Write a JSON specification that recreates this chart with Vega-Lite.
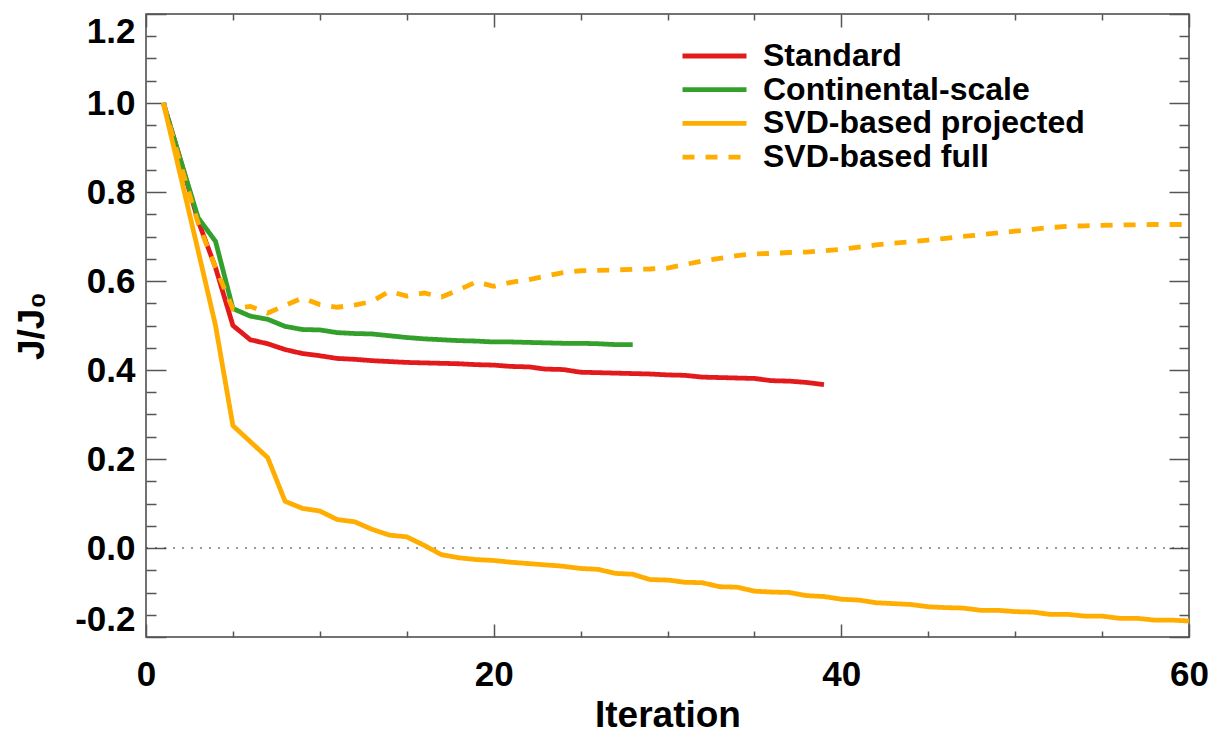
{
  "$schema": "https://vega.github.io/schema/vega-lite/v6.json",
  "width": 1043,
  "height": 623,
  "autosize": {"type": "none"},
  "padding": {"left": 146, "top": 14, "right": 34, "bottom": 99},
  "background": "white",
  "config": {
    "font": "Liberation Sans",
    "view": {"stroke": "#444444", "strokeWidth": 1.5},
    "axis": {"grid": false, "domain": false, "tickColor": "#555555", "tickWidth": 1.5, "labelOverlap": false, "labelColor": "black", "titleColor": "black"}
  },
  "datasets": {
    "zero": [{"i": 0, "v": 0}, {"i": 60, "v": 0}],
    "runs": [
      {"s": "Standard", "i": 1, "v": 1.0}, {"s": "Standard", "i": 2, "v": 0.87}, {"s": "Standard", "i": 3, "v": 0.735}, {"s": "Standard", "i": 4, "v": 0.63}, {"s": "Standard", "i": 5, "v": 0.5}, {"s": "Standard", "i": 6, "v": 0.468}, {"s": "Standard", "i": 7, "v": 0.459}, {"s": "Standard", "i": 8, "v": 0.446}, {"s": "Standard", "i": 9, "v": 0.437}, {"s": "Standard", "i": 10, "v": 0.432}, {"s": "Standard", "i": 11, "v": 0.426}, {"s": "Standard", "i": 12, "v": 0.424}, {"s": "Standard", "i": 13, "v": 0.421}, {"s": "Standard", "i": 14, "v": 0.419}, {"s": "Standard", "i": 15, "v": 0.417}, {"s": "Standard", "i": 16, "v": 0.416}, {"s": "Standard", "i": 17, "v": 0.415}, {"s": "Standard", "i": 18, "v": 0.414}, {"s": "Standard", "i": 19, "v": 0.412}, {"s": "Standard", "i": 20, "v": 0.411}, {"s": "Standard", "i": 21, "v": 0.408}, {"s": "Standard", "i": 22, "v": 0.407}, {"s": "Standard", "i": 23, "v": 0.402}, {"s": "Standard", "i": 24, "v": 0.401}, {"s": "Standard", "i": 25, "v": 0.395}, {"s": "Standard", "i": 26, "v": 0.394}, {"s": "Standard", "i": 27, "v": 0.393}, {"s": "Standard", "i": 28, "v": 0.392}, {"s": "Standard", "i": 29, "v": 0.391}, {"s": "Standard", "i": 30, "v": 0.389}, {"s": "Standard", "i": 31, "v": 0.388}, {"s": "Standard", "i": 32, "v": 0.384}, {"s": "Standard", "i": 33, "v": 0.383}, {"s": "Standard", "i": 34, "v": 0.382}, {"s": "Standard", "i": 35, "v": 0.381}, {"s": "Standard", "i": 36, "v": 0.376}, {"s": "Standard", "i": 37, "v": 0.375}, {"s": "Standard", "i": 38, "v": 0.372}, {"s": "Standard", "i": 39, "v": 0.367},
      {"s": "Continental-scale", "i": 1, "v": 1.0}, {"s": "Continental-scale", "i": 2, "v": 0.87}, {"s": "Continental-scale", "i": 3, "v": 0.742}, {"s": "Continental-scale", "i": 4, "v": 0.689}, {"s": "Continental-scale", "i": 5, "v": 0.538}, {"s": "Continental-scale", "i": 6, "v": 0.521}, {"s": "Continental-scale", "i": 7, "v": 0.514}, {"s": "Continental-scale", "i": 8, "v": 0.498}, {"s": "Continental-scale", "i": 9, "v": 0.491}, {"s": "Continental-scale", "i": 10, "v": 0.49}, {"s": "Continental-scale", "i": 11, "v": 0.484}, {"s": "Continental-scale", "i": 12, "v": 0.482}, {"s": "Continental-scale", "i": 13, "v": 0.481}, {"s": "Continental-scale", "i": 14, "v": 0.477}, {"s": "Continental-scale", "i": 15, "v": 0.473}, {"s": "Continental-scale", "i": 16, "v": 0.47}, {"s": "Continental-scale", "i": 17, "v": 0.468}, {"s": "Continental-scale", "i": 18, "v": 0.466}, {"s": "Continental-scale", "i": 19, "v": 0.465}, {"s": "Continental-scale", "i": 20, "v": 0.463}, {"s": "Continental-scale", "i": 21, "v": 0.463}, {"s": "Continental-scale", "i": 22, "v": 0.462}, {"s": "Continental-scale", "i": 23, "v": 0.461}, {"s": "Continental-scale", "i": 24, "v": 0.46}, {"s": "Continental-scale", "i": 25, "v": 0.46}, {"s": "Continental-scale", "i": 26, "v": 0.459}, {"s": "Continental-scale", "i": 27, "v": 0.457}, {"s": "Continental-scale", "i": 28, "v": 0.457},
      {"s": "SVD-based projected", "i": 1, "v": 1.0}, {"s": "SVD-based projected", "i": 2, "v": 0.834}, {"s": "SVD-based projected", "i": 3, "v": 0.668}, {"s": "SVD-based projected", "i": 4, "v": 0.5}, {"s": "SVD-based projected", "i": 5, "v": 0.275}, {"s": "SVD-based projected", "i": 6, "v": 0.239}, {"s": "SVD-based projected", "i": 7, "v": 0.203}, {"s": "SVD-based projected", "i": 8, "v": 0.105}, {"s": "SVD-based projected", "i": 9, "v": 0.089}, {"s": "SVD-based projected", "i": 10, "v": 0.083}, {"s": "SVD-based projected", "i": 11, "v": 0.064}, {"s": "SVD-based projected", "i": 12, "v": 0.059}, {"s": "SVD-based projected", "i": 13, "v": 0.042}, {"s": "SVD-based projected", "i": 14, "v": 0.029}, {"s": "SVD-based projected", "i": 15, "v": 0.025}, {"s": "SVD-based projected", "i": 16, "v": 0.006}, {"s": "SVD-based projected", "i": 17, "v": -0.015}, {"s": "SVD-based projected", "i": 18, "v": -0.022}, {"s": "SVD-based projected", "i": 19, "v": -0.026}, {"s": "SVD-based projected", "i": 20, "v": -0.028}, {"s": "SVD-based projected", "i": 21, "v": -0.032}, {"s": "SVD-based projected", "i": 22, "v": -0.035}, {"s": "SVD-based projected", "i": 23, "v": -0.038}, {"s": "SVD-based projected", "i": 24, "v": -0.041}, {"s": "SVD-based projected", "i": 25, "v": -0.046}, {"s": "SVD-based projected", "i": 26, "v": -0.048}, {"s": "SVD-based projected", "i": 27, "v": -0.057}, {"s": "SVD-based projected", "i": 28, "v": -0.059}, {"s": "SVD-based projected", "i": 29, "v": -0.071}, {"s": "SVD-based projected", "i": 30, "v": -0.072}, {"s": "SVD-based projected", "i": 31, "v": -0.077}, {"s": "SVD-based projected", "i": 32, "v": -0.078}, {"s": "SVD-based projected", "i": 33, "v": -0.087}, {"s": "SVD-based projected", "i": 34, "v": -0.088}, {"s": "SVD-based projected", "i": 35, "v": -0.097}, {"s": "SVD-based projected", "i": 36, "v": -0.099}, {"s": "SVD-based projected", "i": 37, "v": -0.1}, {"s": "SVD-based projected", "i": 38, "v": -0.107}, {"s": "SVD-based projected", "i": 39, "v": -0.109}, {"s": "SVD-based projected", "i": 40, "v": -0.115}, {"s": "SVD-based projected", "i": 41, "v": -0.117}, {"s": "SVD-based projected", "i": 42, "v": -0.123}, {"s": "SVD-based projected", "i": 43, "v": -0.125}, {"s": "SVD-based projected", "i": 44, "v": -0.127}, {"s": "SVD-based projected", "i": 45, "v": -0.132}, {"s": "SVD-based projected", "i": 46, "v": -0.134}, {"s": "SVD-based projected", "i": 47, "v": -0.135}, {"s": "SVD-based projected", "i": 48, "v": -0.14}, {"s": "SVD-based projected", "i": 49, "v": -0.14}, {"s": "SVD-based projected", "i": 50, "v": -0.143}, {"s": "SVD-based projected", "i": 51, "v": -0.144}, {"s": "SVD-based projected", "i": 52, "v": -0.149}, {"s": "SVD-based projected", "i": 53, "v": -0.149}, {"s": "SVD-based projected", "i": 54, "v": -0.153}, {"s": "SVD-based projected", "i": 55, "v": -0.153}, {"s": "SVD-based projected", "i": 56, "v": -0.158}, {"s": "SVD-based projected", "i": 57, "v": -0.158}, {"s": "SVD-based projected", "i": 58, "v": -0.162}, {"s": "SVD-based projected", "i": 59, "v": -0.162}, {"s": "SVD-based projected", "i": 60, "v": -0.164},
      {"s": "SVD-based full", "i": 1, "v": 1.0}, {"s": "SVD-based full", "i": 2, "v": 0.86}, {"s": "SVD-based full", "i": 3, "v": 0.73}, {"s": "SVD-based full", "i": 4, "v": 0.63}, {"s": "SVD-based full", "i": 5, "v": 0.537}, {"s": "SVD-based full", "i": 6, "v": 0.543}, {"s": "SVD-based full", "i": 7, "v": 0.528}, {"s": "SVD-based full", "i": 8, "v": 0.545}, {"s": "SVD-based full", "i": 9, "v": 0.562}, {"s": "SVD-based full", "i": 10, "v": 0.547}, {"s": "SVD-based full", "i": 11, "v": 0.541}, {"s": "SVD-based full", "i": 12, "v": 0.546}, {"s": "SVD-based full", "i": 13, "v": 0.554}, {"s": "SVD-based full", "i": 14, "v": 0.577}, {"s": "SVD-based full", "i": 15, "v": 0.566}, {"s": "SVD-based full", "i": 16, "v": 0.573}, {"s": "SVD-based full", "i": 17, "v": 0.564}, {"s": "SVD-based full", "i": 18, "v": 0.58}, {"s": "SVD-based full", "i": 19, "v": 0.598}, {"s": "SVD-based full", "i": 20, "v": 0.588}, {"s": "SVD-based full", "i": 21, "v": 0.597}, {"s": "SVD-based full", "i": 22, "v": 0.603}, {"s": "SVD-based full", "i": 23, "v": 0.611}, {"s": "SVD-based full", "i": 24, "v": 0.619}, {"s": "SVD-based full", "i": 25, "v": 0.623}, {"s": "SVD-based full", "i": 26, "v": 0.624}, {"s": "SVD-based full", "i": 27, "v": 0.625}, {"s": "SVD-based full", "i": 28, "v": 0.626}, {"s": "SVD-based full", "i": 29, "v": 0.627}, {"s": "SVD-based full", "i": 30, "v": 0.629}, {"s": "SVD-based full", "i": 31, "v": 0.637}, {"s": "SVD-based full", "i": 32, "v": 0.645}, {"s": "SVD-based full", "i": 33, "v": 0.651}, {"s": "SVD-based full", "i": 34, "v": 0.657}, {"s": "SVD-based full", "i": 35, "v": 0.661}, {"s": "SVD-based full", "i": 36, "v": 0.662}, {"s": "SVD-based full", "i": 37, "v": 0.664}, {"s": "SVD-based full", "i": 38, "v": 0.665}, {"s": "SVD-based full", "i": 39, "v": 0.668}, {"s": "SVD-based full", "i": 40, "v": 0.671}, {"s": "SVD-based full", "i": 41, "v": 0.676}, {"s": "SVD-based full", "i": 42, "v": 0.681}, {"s": "SVD-based full", "i": 43, "v": 0.685}, {"s": "SVD-based full", "i": 44, "v": 0.688}, {"s": "SVD-based full", "i": 45, "v": 0.692}, {"s": "SVD-based full", "i": 46, "v": 0.696}, {"s": "SVD-based full", "i": 47, "v": 0.7}, {"s": "SVD-based full", "i": 48, "v": 0.704}, {"s": "SVD-based full", "i": 49, "v": 0.708}, {"s": "SVD-based full", "i": 50, "v": 0.712}, {"s": "SVD-based full", "i": 51, "v": 0.716}, {"s": "SVD-based full", "i": 52, "v": 0.72}, {"s": "SVD-based full", "i": 53, "v": 0.723}, {"s": "SVD-based full", "i": 54, "v": 0.724}, {"s": "SVD-based full", "i": 55, "v": 0.725}, {"s": "SVD-based full", "i": 56, "v": 0.726}, {"s": "SVD-based full", "i": 57, "v": 0.726}, {"s": "SVD-based full", "i": 58, "v": 0.727}, {"s": "SVD-based full", "i": 59, "v": 0.727}, {"s": "SVD-based full", "i": 60, "v": 0.727}
    ]
  },
  "layer": [
    {
      "data": {"name": "zero"},
      "mark": {"type": "line", "color": "#333333", "strokeWidth": 1.2, "strokeDash": [2, 7]},
      "encoding": {
        "x": {"field": "i", "type": "quantitative", "scale": {"domain": [0, 60], "nice": false, "zero": false},
          "axis": {"orient": "top", "title": null, "labels": false, "values": [0,5,10,15,20,25,30,35,40,45,50,55,60],
            "tickSize": {"condition": {"test": "datum.value % 20 === 0", "value": -13}, "value": -6}}},
        "y": {"field": "v", "type": "quantitative", "scale": {"domain": [-0.2, 1.2], "nice": false, "zero": false},
          "axis": {"orient": "right", "title": null, "labels": false,
            "values": [-0.2,-0.15,-0.1,-0.05,0,0.05,0.1,0.15,0.2,0.25,0.3,0.35,0.4,0.45,0.5,0.55,0.6,0.65,0.7,0.75,0.8,0.85,0.9,0.95,1.0,1.05,1.1,1.15,1.2],
            "tickSize": {"condition": {"test": "abs(datum.value*5 - round(datum.value*5)) < 0.001", "value": -20}, "value": -10}}}
      }
    },
    {
      "data": {"name": "runs"},
      "mark": {"type": "line", "strokeWidth": 4.8},
      "encoding": {
        "x": {"field": "i", "type": "quantitative",
          "axis": {"orient": "bottom", "title": "Iteration", "values": [0,5,10,15,20,25,30,35,40,45,50,55,60],
            "tickSize": {"condition": {"test": "datum.value % 20 === 0", "value": -13}, "value": -6},
            "labelExpr": "datum.value % 20 === 0 ? datum.label : ''",
            "labelFlush": false, "labelPadding": 33, "labelFontSize": 35, "labelFontWeight": "bold",
            "titleFontSize": 37, "titleFontWeight": "bold", "titleX": 521.5, "titleY": 89, "titleBaseline": "alphabetic", "titleAlign": "center"}},
        "y": {"field": "v", "type": "quantitative",
          "axis": {"orient": "left", "title": "J/J₀",
            "values": [-0.2,-0.15,-0.1,-0.05,0,0.05,0.1,0.15,0.2,0.25,0.3,0.35,0.4,0.45,0.5,0.55,0.6,0.65,0.7,0.75,0.8,0.85,0.9,0.95,1.0,1.05,1.1,1.15,1.2],
            "tickSize": {"condition": {"test": "abs(datum.value*5 - round(datum.value*5)) < 0.001", "value": -20}, "value": -10},
            "labelExpr": "abs(datum.value*5 - round(datum.value*5)) < 0.001 ? (datum.value < -0.001 ? '-' + format(-datum.value, '.1f') : format(abs(datum.value), '.1f')) : ''",
            "labelFlush": true, "labelPadding": 31, "labelFontSize": 35, "labelFontWeight": "bold",
            "titleFontSize": 37, "titleFontWeight": "bold", "titleX": -103, "titleY": 311.5, "titleAngle": -90, "titleBaseline": "alphabetic", "titleAlign": "center"}},
        "color": {"field": "s", "type": "nominal",
          "scale": {"domain": ["Standard", "Continental-scale", "SVD-based projected", "SVD-based full"], "range": ["#e31a1c", "#33a02c", "#ffad00", "#ffad00"]},
          "legend": {"orient": "none", "legendX": 534, "legendY": 27, "title": null, "symbolType": "stroke", "symbolSize": 4096, "symbolStrokeWidth": 4.8,
            "labelFontSize": 32, "labelFontWeight": "bold", "labelFont": "Liberation Sans", "labelColor": "black", "labelLimit": 0, "clipHeight": 30, "rowPadding": 1.7, "labelOffset": 14}},
        "strokeDash": {"field": "s", "type": "nominal",
          "scale": {"domain": ["Standard", "Continental-scale", "SVD-based projected", "SVD-based full"], "range": [[1, 0], [1, 0], [1, 0], [12, 11]]},
          "legend": {"orient": "none", "legendX": 534, "legendY": 27, "title": null, "symbolType": "stroke", "symbolSize": 4096, "symbolStrokeWidth": 4.8,
            "labelFontSize": 32, "labelFontWeight": "bold", "labelFont": "Liberation Sans", "labelColor": "black", "labelLimit": 0, "clipHeight": 30, "rowPadding": 1.7, "labelOffset": 14}}
      }
    }
  ],
  "resolve": {"axis": {"x": "independent", "y": "independent"}}
}
